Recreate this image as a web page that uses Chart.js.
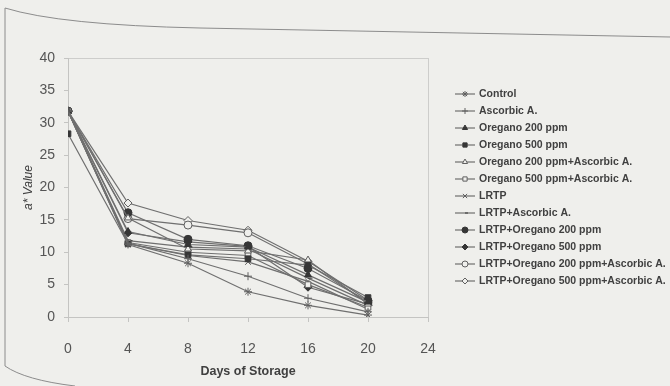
<!DOCTYPE html>
<html>
<head>
<meta charset="utf-8">
<script src="https://cdn.jsdelivr.net/npm/chart.js"></script>
<style>
  html, body { margin: 0; padding: 0; background: #efefec; }
  #wrap { width: 670px; height: 386px; }
</style>
</head>
<body>
<div id="wrap"><canvas id="aChart" width="670" height="386"></canvas></div>
<script>
// DAYS + a* VALUES
const days = [0, 4, 8, 12, 16, 20];
const control        = [31.8, 11.2, 8.3, 3.9, 1.8, 0.3];
const ascorbic       = [31.8, 11.4, 9.0, 6.3, 2.9, 0.8];
const oreg200        = [31.8, 13.2, 11.2, 10.8, 6.5, 2.3];
const oreg500        = [28.3, 11.3, 9.6, 9.0, 8.0, 3.0];
const oreg200Asc     = [31.8, 15.3, 10.5, 10.2, 8.8, 2.0];
const oreg500Asc     = [31.8, 11.5, 10.0, 9.5, 5.0, 1.5];
const lrtp           = [31.8, 11.3, 9.5, 8.5, 5.5, 1.2];
const lrtpAsc        = [31.8, 11.8, 10.8, 10.5, 6.0, 1.8];
const lrtpOreg200    = [31.8, 16.1, 12.0, 11.0, 7.5, 2.5];
const lrtpOreg500    = [31.8, 13.0, 11.6, 10.9, 4.6, 2.0];
const lrtpOreg200Asc = [31.8, 15.2, 14.2, 13.0, 8.2, 2.2];
const lrtpOreg500Asc = [31.8, 17.6, 14.9, 13.4, 8.6, 2.6];

const xTicks = [0, 4, 8, 12, 16, 20, 24];
const yTicks = [0, 5, 10, 15, 20, 25, 30, 35, 40];

const BG = "#efefec";
const LINE = "#6f6f6f";
const DARK = "#363636";

function series(label, values, style, filled) {
  return {
    label: label,
    data: values.map((v, i) => ({ x: days[i], y: v })),
    borderColor: LINE,
    borderWidth: 1.2,
    pointStyle: style,
    pointRadius: style === "dash" ? 4.5 : 4,
    pointBorderWidth: 1,
    pointBorderColor: filled ? DARK : "#606060",
    pointBackgroundColor: filled ? DARK : BG,
    tension: 0
  };
}

const datasets = [
  series("Control", control, "star", false),
  series("Ascorbic A.", ascorbic, "cross", false),
  series("Oregano 200 ppm", oreg200, "triangle", true),
  series("Oregano 500 ppm", oreg500, "rect", true),
  series("Oregano 200 ppm+Ascorbic A.", oreg200Asc, "triangle", false),
  series("Oregano 500 ppm+Ascorbic A.", oreg500Asc, "rect", false),
  series("LRTP", lrtp, "crossRot", false),
  series("LRTP+Ascorbic A.", lrtpAsc, "dash", true),
  series("LRTP+Oregano 200 ppm", lrtpOreg200, "circle", true),
  series("LRTP+Oregano 500 ppm", lrtpOreg500, "rectRot", true),
  series("LRTP+Oregano 200 ppm+Ascorbic A.", lrtpOreg200Asc, "circle", false),
  series("LRTP+Oregano 500 ppm+Ascorbic A.", lrtpOreg500Asc, "rectRot", false)
];

// background, page frame, plot box and the side legend
const framePlugin = {
  id: "frame",
  beforeDraw(chart) {
    const c = chart.ctx;
    c.save();
    c.fillStyle = BG;
    c.fillRect(0, 0, chart.width, chart.height);
    c.strokeStyle = "#8c8c8c";
    c.lineWidth = 1;
    c.beginPath();
    c.moveTo(670, 37);
    c.lineTo(200, 28);
    c.quadraticCurveTo(60, 25, 5, 8);
    c.lineTo(5, 366);
    c.quadraticCurveTo(25, 380, 75, 386);
    c.stroke();
    const a = chart.chartArea;
    c.strokeStyle = "#cdcdcb";
    c.strokeRect(a.left + 0.5, a.top + 0.5, a.right - a.left, a.bottom - a.top);
    c.restore();
  },
  afterDraw(chart) {
    const c = chart.ctx;
    c.save();
    chart.data.datasets.forEach((ds, i) => {
      const y = 94 + i * 17;
      c.strokeStyle = LINE;
      c.lineWidth = 1.2;
      c.beginPath();
      c.moveTo(455, y);
      c.lineTo(475, y);
      c.stroke();
      c.fillStyle = ds.pointBackgroundColor;
      c.strokeStyle = ds.pointBorderColor;
      c.lineWidth = 1;
      Chart.helpers.drawPoint(c, { pointStyle: ds.pointStyle, radius: 3, borderWidth: 1, rotation: 0 }, 465, y);
      c.fillStyle = "#404040";
      c.font = "bold 10.5px 'Liberation Sans', Arial, sans-serif";
      c.textBaseline = "middle";
      c.fillText(ds.label, 479, y);
    });
    c.restore();
  }
};

new Chart(document.getElementById("aChart"), {
  type: "line",
  data: { datasets: datasets },
  plugins: [framePlugin],
  options: {
    responsive: false,
    animation: false,
    layout: { padding: { top: 58, right: 242, left: 0, bottom: 0 } },
    plugins: { legend: { display: false }, tooltip: { enabled: false } },
    scales: {
      x: {
        type: "linear",
        min: 0,
        max: 24,
        afterBuildTicks: s => { s.ticks = xTicks.map(v => ({ value: v })); },
        afterFit: s => { s.height = 69; },
        ticks: { color: "#555", font: { family: "'Liberation Sans', Arial", size: 14 }, padding: 19 },
        grid: { drawOnChartArea: false, tickLength: 5, color: "#c4c4c2" },
        border: { color: "#c4c4c2" },
        title: {
          display: true,
          text: "Days of Storage",
          color: "#404040",
          font: { family: "'Liberation Sans', Arial", size: 12.5, weight: "bold" },
          padding: { top: 0, bottom: 6.5 }
        }
      },
      y: {
        min: 0,
        max: 40,
        afterBuildTicks: s => { s.ticks = yTicks.map(v => ({ value: v })); },
        afterFit: s => { s.width = 68; },
        ticks: { color: "#555", font: { family: "'Liberation Sans', Arial", size: 14 }, padding: 9 },
        grid: { drawOnChartArea: false, tickLength: 4, color: "#c4c4c2" },
        border: { color: "#c4c4c2" },
        title: {
          display: true,
          text: "a* Value",
          color: "#404040",
          font: { family: "'Liberation Sans', Arial", size: 12, style: "italic" },
          padding: { top: 21, bottom: 0 }
        }
      }
    }
  }
});
</script>
</body>
</html>
